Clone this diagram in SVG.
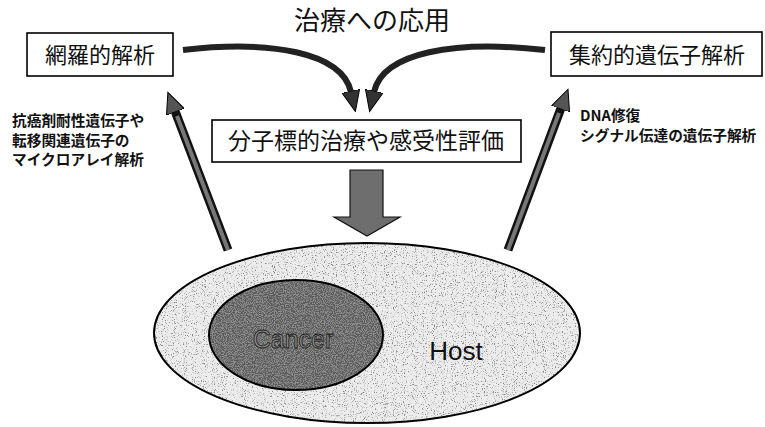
<svg xmlns="http://www.w3.org/2000/svg" width="765" height="427" viewBox="0 0 765 427">
<style>
.box{fill:#fff;stroke:#000;stroke-width:1.6}
.jp{font-family:"Noto Sans CJK JP","Noto Sans",sans-serif;fill:#111}
.big{font-size:22px}
.small{font-size:14.7px;font-weight:bold}
.shaftO{fill:none;stroke:#111;stroke-width:9}
.shaftI{fill:none;stroke:#777;stroke-width:4}
</style>
<defs>
<filter id="speckL" x="0" y="0" width="100%" height="100%">
<feTurbulence type="fractalNoise" baseFrequency="0.9" numOctaves="2" seed="4" result="n"/>
<feColorMatrix in="n" type="matrix" values="0 0 0 0 0.25  0 0 0 0 0.25  0 0 0 0 0.25  5 0 0 0 -2.75" result="dots"/>
<feComposite in="dots" in2="SourceGraphic" operator="in" result="d2"/>
<feMerge><feMergeNode in="SourceGraphic"/><feMergeNode in="d2"/></feMerge>
</filter>
<filter id="speckD" x="0" y="0" width="100%" height="100%">
<feTurbulence type="fractalNoise" baseFrequency="0.9" numOctaves="2" seed="7" result="n"/>
<feColorMatrix in="n" type="matrix" values="0 0 0 0 0.1  0 0 0 0 0.1  0 0 0 0 0.1  5 0 0 0 -1.9" result="dots"/>
<feComposite in="dots" in2="SourceGraphic" operator="in" result="d2"/>
<feMerge><feMergeNode in="SourceGraphic"/><feMergeNode in="d2"/></feMerge>
</filter>
<marker id="headC" markerUnits="userSpaceOnUse" markerWidth="22" markerHeight="18" viewBox="0 0 22 18" refX="1" refY="9" orient="auto">
<path d="M0,0 L21,9 L0,18 Z" fill="#333" stroke="#000" stroke-width="1"/>
</marker>
<marker id="headD" markerUnits="userSpaceOnUse" markerWidth="22" markerHeight="20" viewBox="0 0 22 20" refX="1" refY="10" orient="auto">
<path d="M0,0.5 L21,10 L0,19.5 Z" fill="#555" stroke="#000" stroke-width="1"/>
</marker>
</defs>

<g id="title"><text class="jp" x="372" y="30" text-anchor="middle" font-size="26">治療への応用</text></g>

<g id="node-comprehensive">
<rect class="box" x="27" y="33" width="146" height="43"/>
<text class="jp big" x="100" y="63" text-anchor="middle">網羅的解析</text>
</g>

<g id="node-focused">
<rect class="box" x="551" y="32" width="211" height="44"/>
<text class="jp big" x="657" y="63" text-anchor="middle">集約的遺伝子解析</text>
</g>

<g id="node-therapy">
<rect class="box" x="212" y="120" width="309" height="42"/>
<text class="jp" x="366" y="149" text-anchor="middle" font-size="23">分子標的治療や感受性評価</text>
</g>

<g id="label-left">
<text class="jp small" x="12" y="126">抗癌剤耐性遺伝子や</text>
<text class="jp small" x="12" y="146">転移関連遺伝子の</text>
<text class="jp small" x="12" y="165">マイクロアレイ解析</text>
</g>

<g id="label-right">
<text class="jp small" x="580" y="121">DNA修復</text>
<text class="jp small" x="580" y="141">シグナル伝達の遺伝子解析</text>
</g>

<g id="node-host">
<ellipse cx="367" cy="333" rx="213" ry="90" fill="#ededed" filter="url(#speckL)"/>
<ellipse cx="367" cy="333" rx="213" ry="90" fill="none" stroke="#000" stroke-width="2"/>
<text x="456" y="360" text-anchor="middle" font-family="Liberation Sans, Arial, sans-serif" font-size="26" fill="#111">Host</text>
</g>

<g id="node-cancer">
<ellipse cx="296" cy="335" rx="87" ry="55" fill="#8e8e8e" filter="url(#speckD)"/>
<ellipse cx="296" cy="335" rx="87" ry="55" fill="none" stroke="#000" stroke-width="2"/>
<text x="293" y="348" text-anchor="middle" font-family="Liberation Sans, Arial, sans-serif" font-size="25" fill="#909090" stroke="#1a1a1a" stroke-width="0.8">Cancer</text>
</g>

<g id="connectors">
<path d="M183,50 C270,40 342,52 351,92" fill="none" stroke="#222" stroke-width="6" marker-end="url(#headC)"/>
<path d="M545,50 C455,40 383,52 374,92" fill="none" stroke="#222" stroke-width="6" marker-end="url(#headC)"/>
<path class="shaftO" d="M228,250 L175,111" marker-end="url(#headD)"/>
<path class="shaftI" d="M228,250 L177,116"/>
<path class="shaftO" d="M508,250 L561,108" marker-end="url(#headD)"/>
<path class="shaftI" d="M508,250 L559,113"/>
<polygon points="350,170 383,170 383,217 400,217 367,236 334,217 350,217" fill="#6e6e6e" stroke="#111" stroke-width="1.2"/>
</g>
</svg>
